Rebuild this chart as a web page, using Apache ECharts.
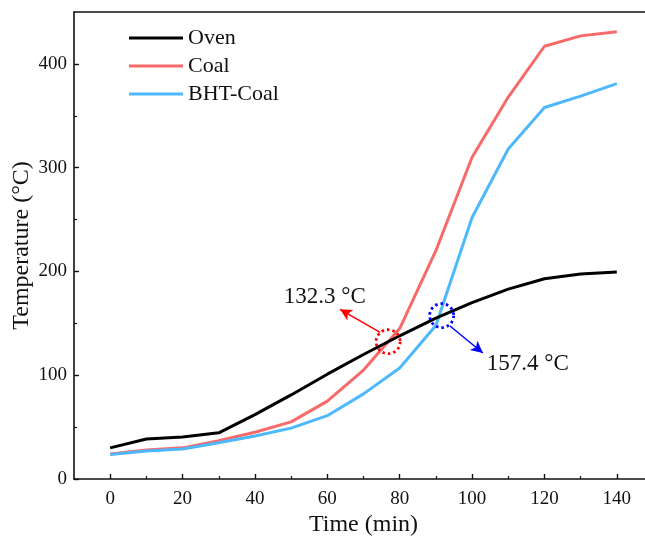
<!DOCTYPE html>
<html>
<head>
<meta charset="utf-8">
<script src="https://cdn.jsdelivr.net/npm/echarts@6/dist/echarts.min.js"></script>
<style>
  html, body { margin: 0; padding: 0; background: #fff; }
  #chart { width: 645px; height: 541px; }
</style>
</head>
<body>
<div id="chart"></div>
<script>
// Heating time (min) and measured temperatures (°C)
const times = [0, 10, 20, 30, 40, 50, 60, 70, 80, 90, 100, 110, 120, 130, 140];
const oven = [30, 38.5, 40.5, 44.5, 62, 81, 101, 120, 138, 155, 170, 183, 193, 197.5, 199.5];
const coal = [24, 28, 30, 37, 45, 55, 75, 105, 145, 220, 310, 368, 417, 427, 431];
const bhtCoal = [23.5, 27, 29, 35, 41.5, 49, 61, 82, 107, 148, 252, 318, 358, 369, 381];

// Axis ticks
const xTicks = [0, 20, 40, 60, 80, 100, 120, 140];
const xMinorTicks = [10, 30, 50, 70, 90, 110, 130];
const yTicks = [0, 100, 200, 300, 400];
const yMinorTicks = [50, 150, 250, 350];

// Crossing points with the oven curve: [time, temperature]
const coalCross = [76.8, 132.3];
const bhtCross = [91.6, 157.4];
// Arrow start/end and label anchor for each crossing, in data units
const coalArrow = [[74.6, 141.3], [63.5, 163.5]];
const coalLabelAt = [59.3, 175.4];
const bhtArrow = [[93.9, 147.4], [103, 121.4]];
const bhtLabelAt = [115.4, 110.8];

const FONT = '"Liberation Serif", "Times New Roman", serif';
const pair = (xs, ys) => xs.map((x, i) => [x, ys[i]]);

function crossing(point, arrow, labelAt, color) {
  return {
    markPoint: {
      silent: true,
      data: [
        {
          coord: point, symbol: 'circle', symbolSize: 24,
          itemStyle: { color: 'rgba(0,0,0,0)', borderColor: color, borderWidth: 2.8, borderType: [2.5, 3] },
          label: { show: false }
        },
        {
          coord: labelAt, symbol: 'rect', symbolSize: 1,
          itemStyle: { color: 'rgba(0,0,0,0)' },
          label: {
            show: true, position: 'inside', formatter: point[1] + ' °C',
            fontFamily: FONT, fontSize: 23, color: '#111'
          }
        }
      ]
    },
    markLine: {
      silent: true,
      symbol: ['none', 'arrow'],
      symbolSize: [9, 12],
      label: { show: false },
      lineStyle: { color: color, width: 1.5, type: 'solid' },
      data: [[{ coord: arrow[0] }, { coord: arrow[1] }]]
    }
  };
}

const chart = echarts.init(document.getElementById('chart'));
const axisLine = { show: true, onZero: false, lineStyle: { color: '#111', width: 1.6 } };

chart.setOption({
  animation: false,
  backgroundColor: '#fff',
  textStyle: { fontFamily: FONT },
  grid: {
    left: 74, top: 12, width: 579, height: 467,
    containLabel: false, outerBoundsMode: 'none'
  },
  legend: {
    left: 124, top: 22, orient: 'vertical',
    itemWidth: 54, itemHeight: 3, itemGap: 6, icon: 'rect',
    textStyle: { fontFamily: FONT, fontSize: 22, color: '#111' },
    data: ['Oven', 'Coal', 'BHT-Coal']
  },
  xAxis: [
    {
      type: 'value', min: -10, max: 150,
      name: 'Time (min)', nameLocation: 'middle', nameGap: 34, nameMoveOverlap: false,
      nameTextStyle: { fontFamily: FONT, fontSize: 24, color: '#111' },
      axisLine: axisLine,
      axisTick: { inside: true, length: 5, customValues: xTicks, lineStyle: { color: '#111', width: 1.4 } },
      axisLabel: { customValues: xTicks, fontFamily: FONT, fontSize: 19, color: '#111', margin: 11 },
      splitLine: { show: false }
    },
    {
      type: 'value', min: -10, max: 150, position: 'bottom',
      axisLine: { show: false, onZero: false },
      axisTick: { inside: true, length: 3, customValues: xMinorTicks, lineStyle: { color: '#111', width: 1.2 } },
      axisLabel: { show: false },
      splitLine: { show: false }
    },
    {
      // plain frame line along the top of the plot
      type: 'value', min: -10, max: 150, position: 'top',
      axisLine: axisLine,
      axisTick: { show: false },
      axisLabel: { show: false },
      splitLine: { show: false }
    }
  ],
  yAxis: [
    {
      type: 'value', min: 0, max: 450,
      name: 'Temperature (°C)', nameLocation: 'middle', nameGap: 40, nameMoveOverlap: false,
      nameTextStyle: { fontFamily: FONT, fontSize: 24, color: '#111' },
      axisLine: axisLine,
      axisTick: { inside: true, length: 5, customValues: yTicks, lineStyle: { color: '#111', width: 1.4 } },
      axisLabel: { customValues: yTicks, fontFamily: FONT, fontSize: 19, color: '#111', margin: 7 },
      splitLine: { show: false }
    },
    {
      type: 'value', min: 0, max: 450, position: 'left',
      axisLine: { show: false, onZero: false },
      axisTick: { inside: true, length: 3, customValues: yMinorTicks, lineStyle: { color: '#111', width: 1.2 } },
      axisLabel: { show: false },
      splitLine: { show: false }
    }
  ],
  series: [
    {
      name: 'Oven', type: 'line', data: pair(times, oven), showSymbol: false, symbol: 'none',
      color: '#000', lineStyle: { width: 3, color: '#000' }, z: 3
    },
    Object.assign({
      name: 'Coal', type: 'line', data: pair(times, coal), showSymbol: false, symbol: 'none',
      color: '#f86a6a', lineStyle: { width: 3, color: '#f86a6a' }, z: 2
    }, crossing(coalCross, coalArrow, coalLabelAt, '#ff0000')),
    Object.assign({
      name: 'BHT-Coal', type: 'line', data: pair(times, bhtCoal), showSymbol: false, symbol: 'none',
      color: '#4db8fb', lineStyle: { width: 3, color: '#4db8fb' }, z: 2
    }, crossing(bhtCross, bhtArrow, bhtLabelAt, '#0000ff'))
  ]
});
</script>
</body>
</html>
